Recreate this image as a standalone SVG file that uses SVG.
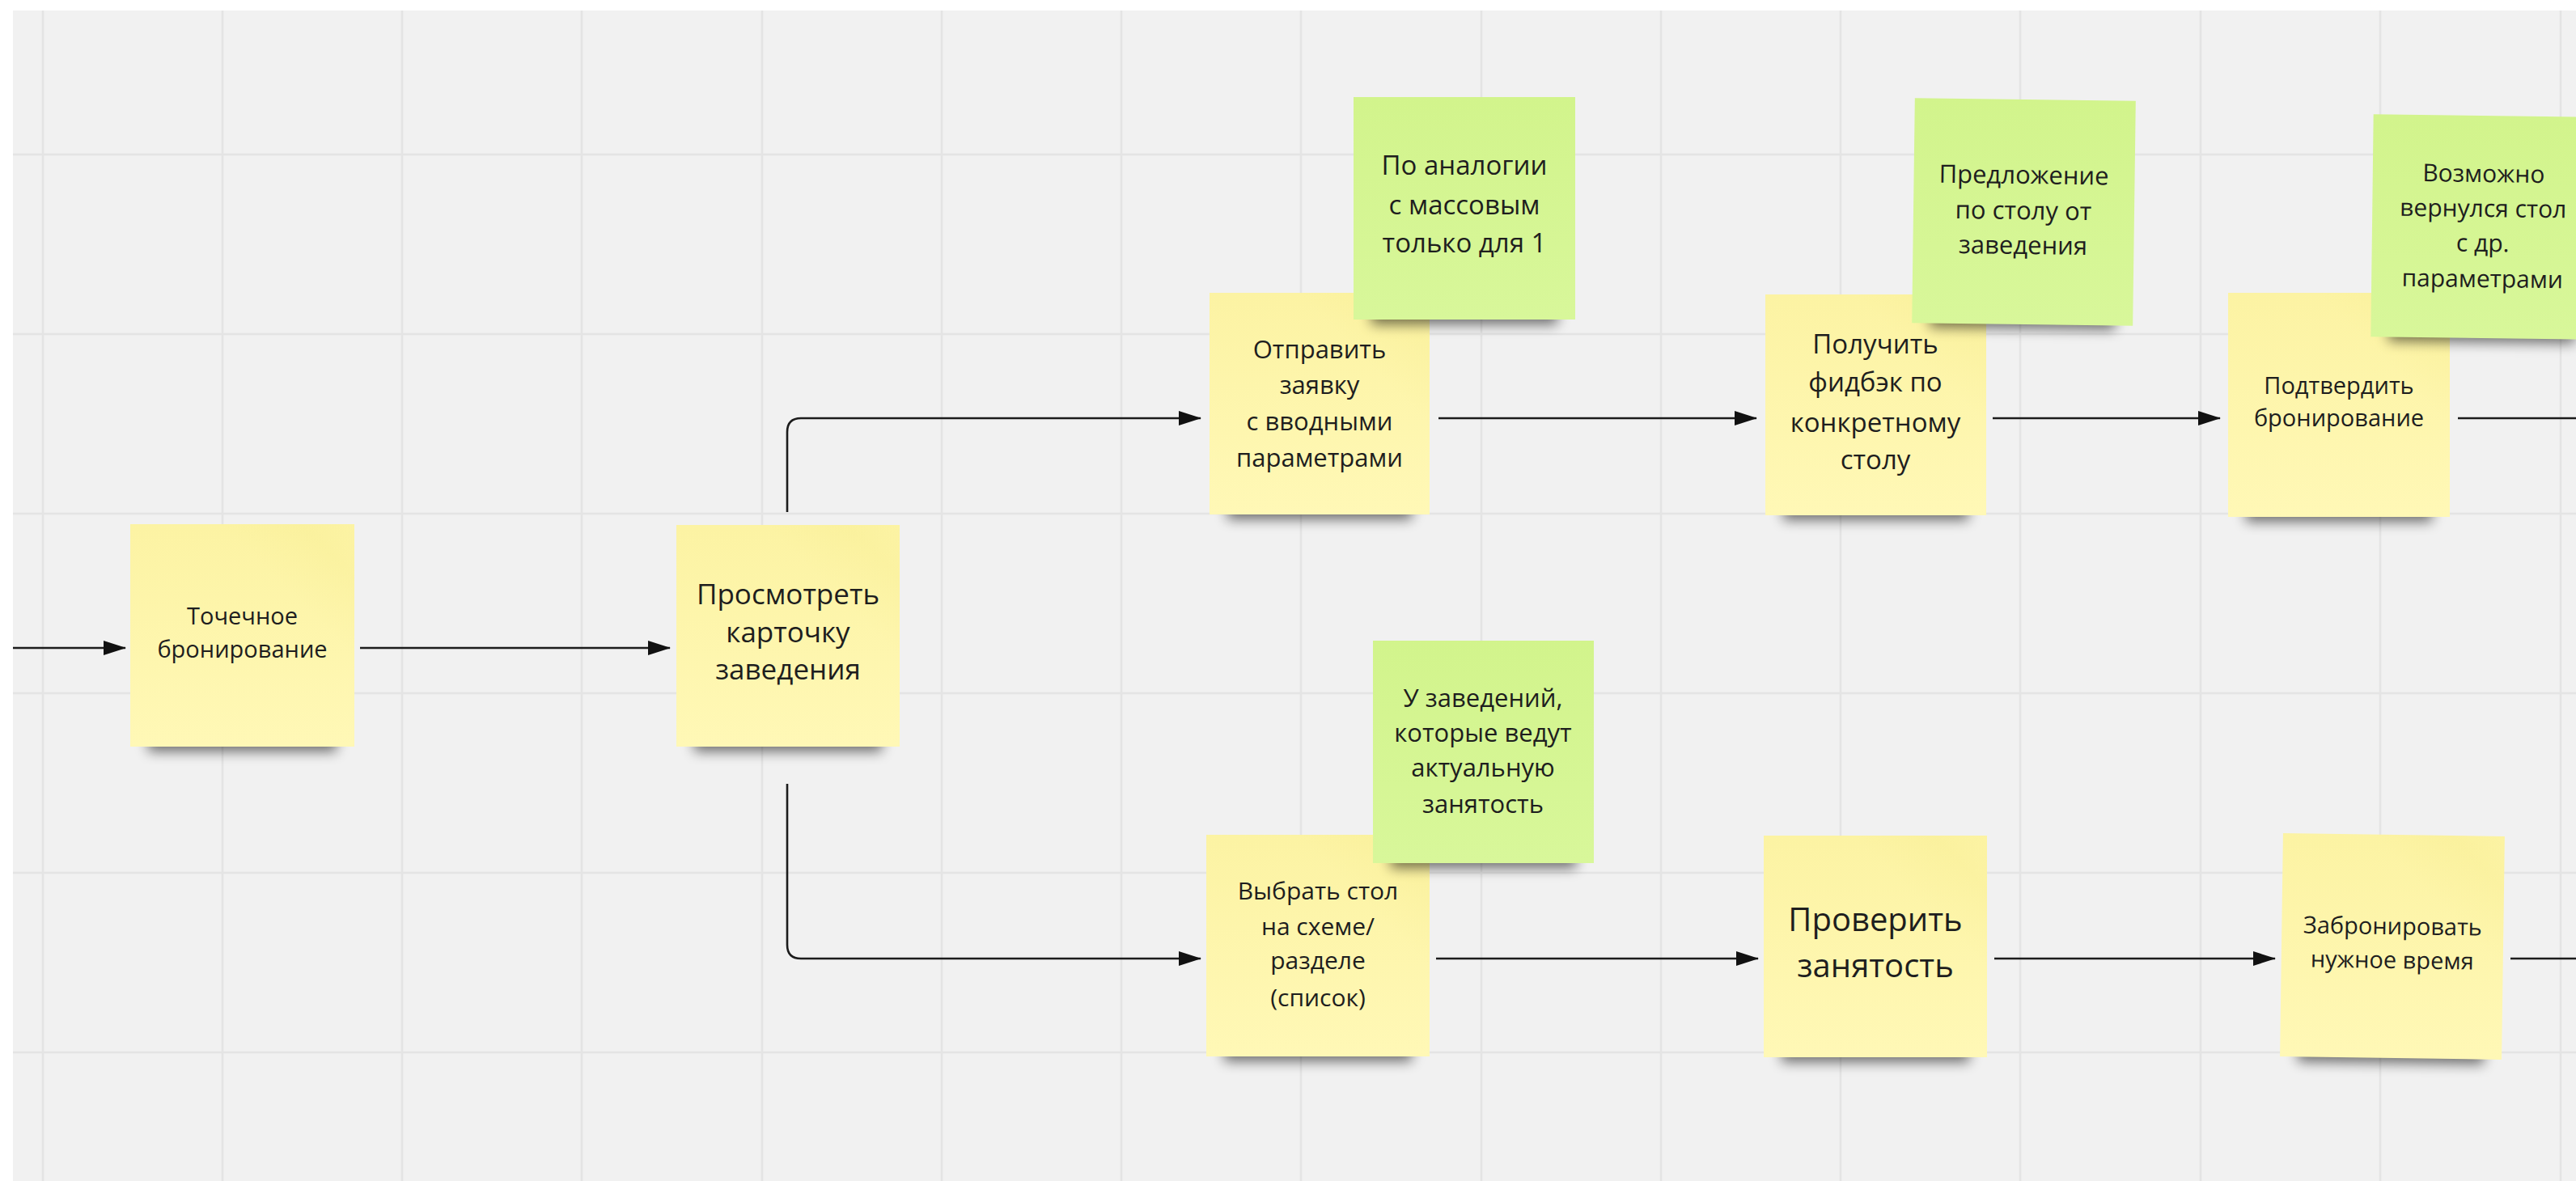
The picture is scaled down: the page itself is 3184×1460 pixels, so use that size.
<svg xmlns="http://www.w3.org/2000/svg" width="3184" height="1460" viewBox="0 0 3184 1460">
<style>
.grid line{stroke:#e4e4e4;stroke-width:2.5}
.conn path{fill:none;stroke:#1c1c1c;stroke-width:2.6;marker-end:url(#ah)}
.conn path.open{marker-end:none}
.y{fill:url(#gy)}
.g{fill:url(#gg)}
.sh{fill:#000;opacity:.55;filter:url(#blur)}
.fold{fill:url(#gf)}
text{font-family:"Open Sans","Noto Sans","Liberation Sans",sans-serif;fill:#1e1e1e;text-anchor:middle}
</style>
<defs>
<marker id="ah" markerUnits="userSpaceOnUse" markerWidth="30" markerHeight="20" refX="27" refY="9" orient="auto">
<path d="M0,0 L28,9 L0,18 z" fill="#111"/>
</marker>
<filter id="blur" x="-20%" y="-100%" width="140%" height="300%"><feGaussianBlur stdDeviation="8"/></filter>
<linearGradient id="gy" x1="0" y1="0" x2="0" y2="1"><stop offset="0" stop-color="#fcf3a3"/><stop offset="1" stop-color="#fff8b6"/></linearGradient>
<linearGradient id="gg" x1="0" y1="0" x2="0" y2="1"><stop offset="0" stop-color="#d2f48c"/><stop offset="1" stop-color="#d8f79a"/></linearGradient>
<linearGradient id="gf" x1="1" y1="0" x2="0" y2="1"><stop offset="0" stop-color="#e8dc60" stop-opacity="0"/><stop offset="0.12" stop-color="#e8dc60" stop-opacity="0.08"/><stop offset="0.3" stop-color="#e8dc60" stop-opacity="0"/></linearGradient>
</defs>
<rect width="3184" height="1460" fill="#ffffff"/>
<rect x="16" y="13" width="3168" height="1447" fill="#f1f1f1"/>
<g class="grid">
<line x1="53" y1="13" x2="53" y2="1460"/>
<line x1="275" y1="13" x2="275" y2="1460"/>
<line x1="497" y1="13" x2="497" y2="1460"/>
<line x1="719" y1="13" x2="719" y2="1460"/>
<line x1="942" y1="13" x2="942" y2="1460"/>
<line x1="1164" y1="13" x2="1164" y2="1460"/>
<line x1="1386" y1="13" x2="1386" y2="1460"/>
<line x1="1608" y1="13" x2="1608" y2="1460"/>
<line x1="1831" y1="13" x2="1831" y2="1460"/>
<line x1="2053" y1="13" x2="2053" y2="1460"/>
<line x1="2275" y1="13" x2="2275" y2="1460"/>
<line x1="2497" y1="13" x2="2497" y2="1460"/>
<line x1="2720" y1="13" x2="2720" y2="1460"/>
<line x1="2942" y1="13" x2="2942" y2="1460"/>
<line x1="3165" y1="13" x2="3165" y2="1460"/>
<line x1="16" y1="191" x2="3184" y2="191"/>
<line x1="16" y1="413" x2="3184" y2="413"/>
<line x1="16" y1="635" x2="3184" y2="635"/>
<line x1="16" y1="857" x2="3184" y2="857"/>
<line x1="16" y1="1079" x2="3184" y2="1079"/>
<line x1="16" y1="1301" x2="3184" y2="1301"/>
</g>
<g id="connectors" class="conn">
<path d="M16,801 H155"/>
<path d="M445,801 H828"/>
<path d="M973,633 V534 Q973,517 990,517 H1484"/>
<path d="M973,969 V1168 Q973,1185 990,1185 H1484"/>
<path d="M1778,517 H2171"/>
<path d="M2463,517 H2744"/>
<path class="open" d="M3038,517 H3184"/>
<path d="M1775,1185 H2173"/>
<path d="M2465,1185 H2812"/>
<path class="open" d="M3103,1185 H3184"/>
</g>
<g id="n1">
<rect class="sh" x="183" y="905" width="233" height="24"/>
<rect class="y" x="161" y="648" width="277" height="275"/>
<rect class="fold" x="161" y="648" width="277" height="275"/>
<text font-size="29"><tspan x="299.5" y="772">Точечное</tspan><tspan x="299.5" y="813">бронирование</tspan></text>
</g>
<g id="n2">
<rect class="sh" x="858" y="905" width="232" height="24"/>
<rect class="y" x="836" y="649" width="276" height="274"/>
<rect class="fold" x="836" y="649" width="276" height="274"/>
<text font-size="35"><tspan x="974" y="747">Просмотреть</tspan><tspan x="974" y="794">карточку</tspan><tspan x="974" y="840">заведения</tspan></text>
</g>
<g id="n3">
<rect class="sh" x="1517" y="618" width="228" height="24"/>
<rect class="y" x="1495" y="362" width="272" height="274"/>
<rect class="fold" x="1495" y="362" width="272" height="274"/>
<text font-size="31"><tspan x="1631" y="443">Отправить</tspan><tspan x="1631" y="487">заявку</tspan><tspan x="1631" y="532">с вводными</tspan><tspan x="1631" y="577">параметрами</tspan></text>
</g>
<g id="n4">
<rect class="sh" x="2204" y="619" width="229" height="24"/>
<rect class="y" x="2182" y="364" width="273" height="273"/>
<rect class="fold" x="2182" y="364" width="273" height="273"/>
<text font-size="33"><tspan x="2318" y="437">Получить</tspan><tspan x="2318" y="484">фидбэк по</tspan><tspan x="2318" y="534">конкретному</tspan><tspan x="2318" y="580">столу</tspan></text>
</g>
<g id="n5">
<rect class="sh" x="2776" y="621" width="230" height="24"/>
<rect class="y" x="2754" y="362" width="274" height="277"/>
<rect class="fold" x="2754" y="362" width="274" height="277"/>
<text font-size="29"><tspan x="2891" y="487">Подтвердить</tspan><tspan x="2891" y="527">бронирование</tspan></text>
</g>
<g id="n6">
<rect class="sh" x="1513" y="1288" width="232" height="24"/>
<rect class="y" x="1491" y="1032" width="276" height="274"/>
<rect class="fold" x="1491" y="1032" width="276" height="274"/>
<text font-size="30"><tspan x="1629" y="1112">Выбрать стол</tspan><tspan x="1629" y="1156">на схеме/</tspan><tspan x="1629" y="1198">разделе</tspan><tspan x="1629" y="1244">(список)</tspan></text>
</g>
<g id="n7">
<rect class="sh" x="2202" y="1289" width="232" height="24"/>
<rect class="y" x="2180" y="1033" width="276" height="274"/>
<rect class="fold" x="2180" y="1033" width="276" height="274"/>
<text font-size="40"><tspan x="2318" y="1151">Проверить</tspan><tspan x="2318" y="1208">занятость</tspan></text>
</g>
<g id="n8" transform="rotate(0.8 2957 1170)">
<rect class="sh" x="2842" y="1290" width="230" height="24"/>
<rect class="y" x="2820" y="1032" width="274" height="276"/>
<rect class="fold" x="2820" y="1032" width="274" height="276"/>
<text font-size="29"><tspan x="2957" y="1155">Забронировать</tspan><tspan x="2957" y="1197">нужное время</tspan></text>
</g>
<g id="g1">
<rect class="sh" x="1695" y="377" width="230" height="24"/>
<rect class="g" x="1673" y="120" width="274" height="275"/>
<text font-size="33"><tspan x="1810" y="216">По аналогии</tspan><tspan x="1810" y="265">с массовым</tspan><tspan x="1810" y="312">только для 1</tspan></text>
</g>
<g id="g2" transform="rotate(0.75 2501 262)">
<rect class="sh" x="2387" y="382" width="229" height="24"/>
<rect class="g" x="2365" y="123" width="273" height="278"/>
<text font-size="31"><tspan x="2501" y="227">Предложение</tspan><tspan x="2501" y="271">по столу от</tspan><tspan x="2501" y="314">заведения</tspan></text>
</g>
<g id="g3" transform="rotate(0.7 3069 280)">
<rect class="sh" x="2954" y="399" width="230" height="24"/>
<rect class="g" x="2932" y="143" width="274" height="275"/>
<text font-size="30"><tspan x="3069" y="225">Возможно</tspan><tspan x="3069" y="268">вернулся стол</tspan><tspan x="3069" y="311">с др.</tspan><tspan x="3069" y="355">параметрами</tspan></text>
</g>
<g id="g4">
<rect class="sh" x="1719" y="1049" width="229" height="24"/>
<rect class="g" x="1697" y="792" width="273" height="275"/>
<text font-size="31"><tspan x="1833" y="874">У заведений,</tspan><tspan x="1833" y="917">которые ведут</tspan><tspan x="1833" y="960">актуальную</tspan><tspan x="1833" y="1005">занятость</tspan></text>
</g>
</svg>
